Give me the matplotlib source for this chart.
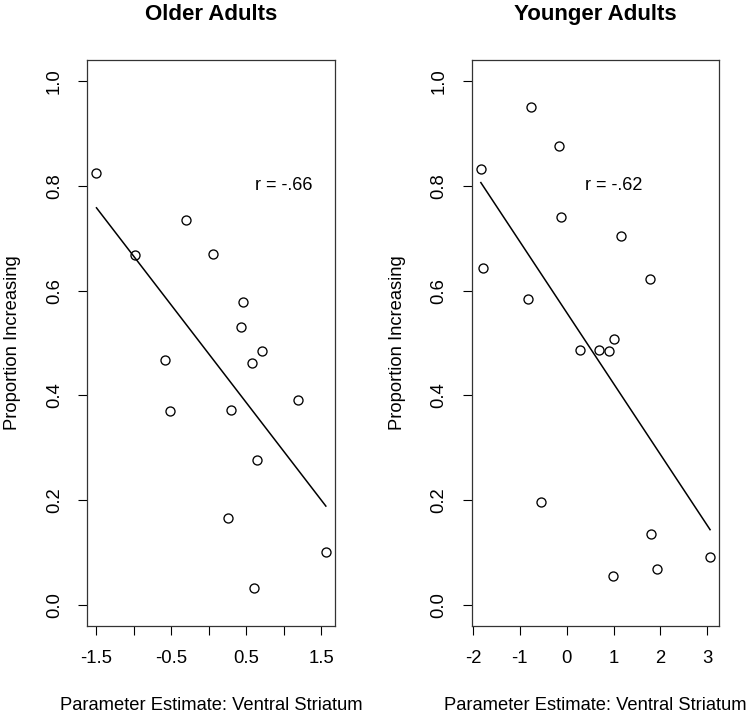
import numpy as np
import matplotlib
matplotlib.use('Agg')
import matplotlib.pyplot as plt

plt.rcParams['font.family'] = ['Liberation Sans', 'DejaVu Sans']

# older adults
older_x = [-1.50, -0.99, -0.31, 0.05, 0.46, 0.43, 0.71, 0.58, -0.59, -0.52,
           0.30, 1.19, 0.64, 0.26, 1.56, 0.60]
older_y = [0.824, 0.667, 0.735, 0.670, 0.579, 0.530, 0.484, 0.462, 0.468, 0.370,
           0.372, 0.391, 0.276, 0.167, 0.102, 0.032]

# younger adults
younger_x = [-1.83, -1.79, -0.77, -0.17, -0.12, 1.15, 1.78, -0.82, 1.02, 0.28,
             0.70, 0.91, -0.55, 1.79, 3.06, 0.99, 1.93]
younger_y = [0.832, 0.643, 0.951, 0.875, 0.740, 0.704, 0.623, 0.584, 0.508, 0.486,
             0.487, 0.485, 0.196, 0.135, 0.092, 0.056, 0.069]

titles = ['Older Adults', 'Younger Adults']
r_labels = ['r = -.66', 'r = -.62']
xticks = [[-1.5, -1.0, -0.5, 0.0, 0.5, 1.0, 1.5], [-2, -1, 0, 1, 2, 3]]
xticklabels = [['-1.5', '', '-0.5', '', '0.5', '', '1.5'],
               ['-2', '-1', '0', '1', '2', '3']]
yticks = [0.0, 0.2, 0.4, 0.6, 0.8, 1.0]
yticklabels = ['0.0', '0.2', '0.4', '0.6', '0.8', '1.0']

fig = plt.figure(figsize=(7.5, 7.15), dpi=100)
ax1 = fig.add_axes([0.1164, 0.1245, 0.3303, 0.7916])
ax2 = fig.add_axes([0.6289, 0.1245, 0.3301, 0.7916])

datasets = [(older_x, older_y), (younger_x, younger_y)]
for i, ax in enumerate([ax1, ax2]):
    x = np.array(datasets[i][0])
    y = np.array(datasets[i][1])
    ax.plot(x, y, 'o', mfc='none', mec='black', ms=6.5, mew=0.95)
    # least squares line over the observed x range
    slope, intercept = np.polyfit(x, y, 1)
    xs = np.array([x.min(), x.max()])
    ax.plot(xs, intercept + slope * xs, color='black', lw=1.1)

    pad = 0.04 * (x.max() - x.min())
    ax.set_xlim(x.min() - pad, x.max() + pad)
    ax.set_ylim(-0.04, 1.04)
    ax.set_xticks(xticks[i])
    ax.set_xticklabels(xticklabels[i])
    ax.set_yticks(yticks)
    ax.set_yticklabels(yticklabels, rotation=90, va='center')
    ax.tick_params(direction='out', length=6.5, width=0.8, labelsize=13.3, pad=11)
    for s in ax.spines.values():
        s.set_linewidth(0.9)
        s.set_color('#333333')

    ax.text(1.0, 0.8, r_labels[i], ha='center', va='center', fontsize=13)
    ax.text(0.5, 1.08, titles[i], transform=ax.transAxes, ha='center',
            va='center', fontsize=16, fontweight='bold')
    ax.set_xlabel('Parameter Estimate: Ventral Striatum', fontsize=13.2)
    ax.xaxis.set_label_coords(0.5, -0.14)
    ax.set_ylabel('Proportion Increasing', fontsize=13.2)
    ax.yaxis.set_label_coords(-0.30, 0.5)
    ax.xaxis.label.set_va('center')
    ax.yaxis.label.set_va('center')

fig.savefig('out.png', dpi=100)
